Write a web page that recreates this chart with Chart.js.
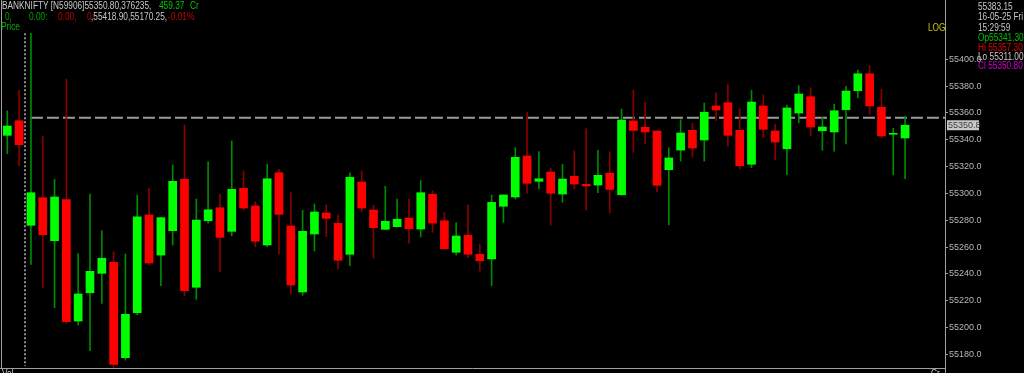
<!DOCTYPE html>
<html><head><meta charset="utf-8">
<script src="https://cdn.jsdelivr.net/npm/chart.js@4.4.1/dist/chart.umd.min.js"></script>
<style>
html,body{margin:0;padding:0;background:#000;overflow:hidden;}
#wrap{position:relative;width:1024px;height:373px;background:#000;overflow:hidden;}
canvas{position:absolute;left:0;top:0;}
.t{position:absolute;font-family:'Liberation Sans',Arial,sans-serif;font-size:10px;line-height:10px;white-space:pre;transform:scaleX(0.83);transform-origin:0 0;}
</style></head><body>
<div id="wrap">
<canvas id="c" width="1024" height="373"></canvas>
<div class="t" style="left:2px;top:1px;color:#c8c8c8">BANKNIFTY [N59906]55350.80,376235,</div>
<div class="t" style="left:159px;top:1px;color:#00c800">459.37</div>
<div class="t" style="left:190px;top:1px;color:#00c800">Cr</div>
<div class="t" style="left:5px;top:12px;color:#00a000">0,</div>
<div class="t" style="left:29px;top:12px;color:#00a000">0.00:</div>
<div class="t" style="left:58px;top:12px;color:#c00000">0.00,</div>
<div class="t" style="left:87px;top:12px;color:#c00000">0</div>
<div class="t" style="left:91px;top:12px;color:#c8c8c8">,55418.90,55170.25,</div>
<div class="t" style="left:168px;top:12px;color:#c00000">-0.01%</div>
<div class="t" style="left:1px;top:22px;color:#00b000">Price</div>
<div class="t" style="left:928px;top:23px;color:#c8c800">LOG</div>
<div class="t" style="left:978px;top:2px;color:#c8c8c8">55383.15</div>
<div class="t" style="left:978px;top:12px;color:#c8c8c8">16-05-25 Fri</div>
<div class="t" style="left:978px;top:23px;color:#c8c8c8">15:29:59</div>
<div class="t" style="left:978px;top:33px;color:#00c000">Op55341.30</div>
<div class="t" style="left:978px;top:43px;color:#e00000">Hi 55357.30</div>
<div class="t" style="left:978px;top:52px;color:#c8c8c8">Lo 55311.00</div>
<div class="t" style="left:978px;top:61px;color:#d000d0">Cl 55350.80</div>
<div class="t" style="left:2px;top:369px;color:#c8c8c8">Vol</div>
<div class="t" style="left:931px;top:369px;color:#c8c8c8">Cr</div>
</div>
<script>
const opens = [55343.3, 55354.2, 55276.2, 55296.8, 55264.7, 55295.3, 55204.8, 55225.9, 55240.4, 55248.6,
55177.5, 55211.0, 55283.9, 55254.0, 55272.2, 55310.5, 55230.0, 55279.6, 55289.3, 55271.7,
55303.8, 55290.6, 55261.5, 55315.4, 55275.7, 55226.5, 55269.7, 55285.4, 55277.7, 55254.6,
55308.5, 55287.6, 55273.2, 55275.2, 55281.6, 55273.4, 55299.3, 55279.6, 55256.1, 55268.7,
55254.6, 55251.1, 55290.4, 55297.3, 55327.9, 55309.0, 55315.9, 55299.5, 55312.7, 55306.8,
55306.2, 55315.0, 55299.0, 55354.0, 55349.3, 55346.5, 55317.7, 55332.3, 55347.0, 55339.8,
55365.2, 55367.6, 55347.0, 55321.7, 55365.2, 55346.5, 55333.3, 55359.9, 55372.1, 55346.7,
55345.8, 55362.4, 55376.6, 55389.2, 55364.2, 55344.1, 55341.3];
const highs = [55361.6, 55376.9, 55419.4, 55342.3, 55310.5, 55385.1, 55255.0, 55299.5, 55272.2, 55256.5,
55254.8, 55298.8, 55303.8, 55282.2, 55321.2, 55351.0, 55295.8, 55323.6, 55299.5, 55339.1,
55316.7, 55293.8, 55321.7, 55318.0, 55300.5, 55287.4, 55292.1, 55291.3, 55284.1, 55315.4,
55316.7, 55291.3, 55305.3, 55295.8, 55295.8, 55309.5, 55301.8, 55285.6, 55278.1, 55291.3,
55262.2, 55298.8, 55299.0, 55334.1, 55360.2, 55331.1, 55318.7, 55321.7, 55331.6, 55348.2,
55332.1, 55331.1, 55362.9, 55376.9, 55367.9, 55346.7, 55334.1, 55354.9, 55352.3, 55367.4,
55374.9, 55381.6, 55363.1, 55376.9, 55373.6, 55351.5, 55365.9, 55380.3, 55378.8, 55357.0,
55366.6, 55379.8, 55392.0, 55395.5, 55377.6, 55348.5, 55357.3];
const lows = [55329.6, 55320.6, 55247.1, 55230.0, 55214.7, 55203.1, 55201.8, 55182.7, 55218.0, 55170.3,
55175.7, 55209.3, 55247.1, 55231.2, 55261.5, 55223.5, 55221.0, 55277.7, 55241.6, 55268.4,
55287.6, 55260.2, 55260.2, 55254.6, 55225.0, 55224.0, 55257.0, 55267.7, 55243.6, 55246.1,
55286.3, 55251.8, 55273.0, 55275.0, 55262.8, 55267.5, 55271.0, 55258.5, 55254.0, 55252.0,
55242.1, 55231.2, 55278.4, 55295.8, 55300.1, 55303.3, 55276.4, 55293.3, 55303.3, 55287.6,
55300.5, 55285.4, 55298.8, 55330.6, 55337.0, 55301.2, 55276.6, 55324.1, 55327.1, 55324.1,
55354.5, 55335.3, 55318.2, 55319.1, 55341.5, 55324.9, 55313.9, 55352.7, 55343.0, 55332.1,
55331.4, 55336.8, 55371.3, 55359.0, 55341.3, 55313.9, 55311.0];
const closes = [55350.2, 55336.3, 55300.5, 55269.2, 55297.3, 55204.3, 55225.0, 55241.9, 55251.6, 55172.5,
55209.8, 55282.6, 55248.1, 55281.9, 55309.0, 55227.4, 55280.1, 55287.8, 55267.2, 55303.0,
55289.1, 55264.3, 55310.9, 55284.4, 55231.7, 55271.7, 55286.1, 55281.4, 55250.1, 55312.0,
55289.1, 55274.4, 55279.2, 55280.7, 55273.7, 55300.5, 55277.9, 55258.7, 55268.2, 55254.6,
55249.8, 55293.3, 55298.8, 55326.9, 55307.5, 55310.9, 55300.1, 55310.7, 55307.0, 55305.5,
55313.5, 55303.0, 55354.7, 55347.0, 55345.8, 55306.0, 55326.4, 55345.0, 55333.8, 55360.5,
55362.2, 55343.3, 55320.6, 55368.1, 55347.8, 55338.3, 55363.7, 55374.1, 55349.5, 55349.5,
55361.6, 55376.3, 55389.2, 55365.2, 55342.8, 55344.8, 55350.8];
const yTicks = [55180, 55200, 55220, 55240, 55260, 55280, 55300, 55320, 55340, 55360, 55380, 55400];
const refLevel = 55356.4;      // dashed reference line
const lastPrice = 55350.8;
const sessionBreak = 1.5;      // between candle 2 and 3
const sessionHigh = 55419.4;

const FONT = "'Liberation Sans',Arial,sans-serif";
const bodies = [], wicks = [], bodyColors = [], wickColors = [];
for (let i = 0; i < opens.length; i++) {
  const up = closes[i] >= opens[i];
  bodies.push({x: i, y: [opens[i], closes[i]]});
  wicks.push({x: i, y: [lows[i], highs[i]]});
  bodyColors.push(up ? '#00ff00' : '#ff0000');
  wickColors.push(up ? '#008a00' : '#8a0000');
}

const overlay = {
  id: 'overlay',
  beforeDatasetsDraw(chart) {
    const {ctx, chartArea: a, scales: {x, y}} = chart;
    ctx.save();
    ctx.strokeStyle = '#a0a0a0'; ctx.lineWidth = 1;
    ctx.beginPath();
    ctx.moveTo(1.5, 0); ctx.lineTo(1.5, a.bottom);
    ctx.moveTo(0, a.bottom + 0.5); ctx.lineTo(a.right, a.bottom + 0.5);
    ctx.moveTo(a.right + 0.5, a.bottom); ctx.lineTo(a.right + 0.5, 373);
    ctx.stroke();
    const sx = Math.round(x.getPixelForValue(sessionBreak));
    ctx.strokeStyle = '#8c8c8c'; ctx.lineWidth = 2; ctx.setLineDash([2, 2]);
    ctx.beginPath(); ctx.moveTo(sx, y.getPixelForValue(sessionHigh)); ctx.lineTo(sx, a.bottom - 2); ctx.stroke();
    ctx.restore();
  },
  afterDraw(chart) {
    const {ctx, chartArea: a, scales: {y}} = chart;
    const py = y.getPixelForValue(lastPrice);
    ctx.save();
    ctx.fillStyle = '#c8c8c8';
    ctx.fillRect(a.right + 2, py - 5, 32, 10);
    ctx.fillStyle = '#3a3a3a';
    ctx.font = '9px ' + FONT;
    ctx.textBaseline = 'middle';
    ctx.fillText(lastPrice.toFixed(1), a.right + 3, py + 0.5);
    ctx.restore();
  }
};

new Chart(document.getElementById('c'), {
  type: 'bar',
  data: {datasets: [
    {label: 'body', data: bodies, backgroundColor: bodyColors, barThickness: 8, grouped: false, borderWidth: 0, order: 1},
    {label: 'wick', data: wicks, backgroundColor: wickColors, barThickness: 1, grouped: false, borderWidth: 0, order: 2},
    {type: 'line', label: 'ref', data: [{x: 2, y: refLevel}, {x: 80, y: refLevel}], borderColor: '#9c9c9c', borderWidth: 2, borderDash: [12, 4], pointRadius: 0, order: 3}
  ]},
  options: {
    responsive: false, animation: false, devicePixelRatio: 1,
    layout: {padding: {left: 2, top: 0, right: 0, bottom: 5}},
    plugins: {legend: {display: false}, tooltip: {enabled: false}},
    scales: {
      x: {type: 'linear', min: -0.449, max: 79.38, display: false, offset: false},
      y: {
        position: 'right', min: 55169.8, max: 55444.2,
        afterFit(s) { s.width = 79; s.paddingTop = 0; s.paddingBottom = 0; },
        afterBuildTicks(s) { s.ticks = yTicks.map(v => ({value: v})); },
        ticks: {color: '#b8b8b8', font: {family: FONT, size: 9}, padding: 1, callback: v => Number(v).toFixed(1)},
        grid: {drawOnChartArea: false, drawTicks: true, tickLength: 3, color: '#a0a0a0'},
        border: {display: true, color: '#a0a0a0'}
      }
    }
  },
  plugins: [overlay]
});
</script>
</body></html>
